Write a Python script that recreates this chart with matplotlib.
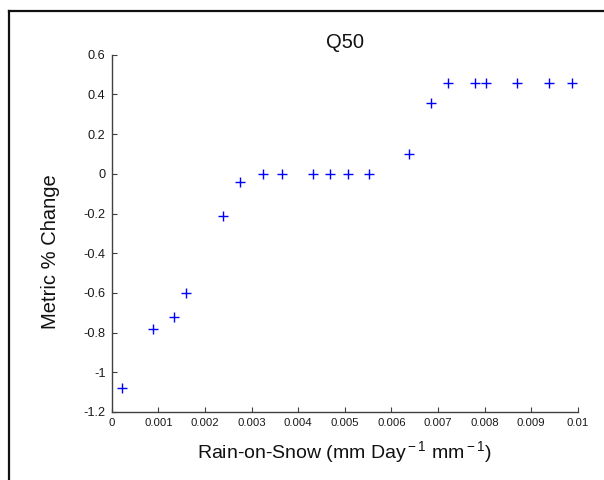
import matplotlib
matplotlib.use("Agg")
import matplotlib.pyplot as plt
from matplotlib.lines import Line2D

plt.rcParams['font.family'] = ['Liberation Sans', 'DejaVu Sans']
plt.rcParams['mathtext.fontset'] = 'custom'
plt.rcParams['mathtext.rm'] = 'Liberation Sans'
plt.rcParams['mathtext.it'] = 'Liberation Sans:italic'
plt.rcParams['mathtext.bf'] = 'Liberation Sans:bold'

# Data
rain_on_snow = [0.00021, 0.00088, 0.00134, 0.00159, 0.00239, 0.00276, 0.00325,
                0.00366, 0.00431, 0.00469, 0.00506, 0.00552, 0.00638, 0.00686,
                0.00721, 0.00779, 0.00804, 0.00869, 0.00938, 0.00987]
metric_change = [-1.08, -0.78, -0.72, -0.60, -0.214, -0.043, 0.0,
                 0.0, 0.0, 0.0, 0.0, 0.0, 0.10, 0.357,
                 0.456, 0.456, 0.456, 0.456, 0.456, 0.456]

x_ticks = [0, 0.001, 0.002, 0.003, 0.004, 0.005, 0.006, 0.007, 0.008, 0.009, 0.01]
x_tick_labels = ['0', '0.001', '0.002', '0.003', '0.004', '0.005', '0.006',
                 '0.007', '0.008', '0.009', '0.01']
y_ticks = [-1.2, -1.0, -0.8, -0.6, -0.4, -0.2, 0, 0.2, 0.4, 0.6]
y_tick_labels = ['-1.2', '-1', '-0.8', '-0.6', '-0.4', '-0.2', '0', '0.2', '0.4', '0.6']

fig = plt.figure(figsize=(6.04, 4.80), dpi=100)
ax = fig.add_axes([0.185, 0.1417, 0.7716, 0.7443])

ax.plot(rain_on_snow, metric_change, linestyle='none', marker='+',
        color=(0, 0, 1), markersize=7.5, markeredgewidth=1.0)

ax.set_xlim(0, 0.01)
ax.set_ylim(-1.2, 0.6)
ax.set_xticks(x_ticks)
ax.set_xticklabels(x_tick_labels)
ax.set_yticks(y_ticks)
ax.set_yticklabels(y_tick_labels)

for s in ['top', 'right']:
    ax.spines[s].set_visible(False)
for s in ['left', 'bottom']:
    ax.spines[s].set_color('#404040')
    ax.spines[s].set_linewidth(1.0)
ax.tick_params(direction='in', length=3.5, width=0.8, colors='#404040',
               labelcolor='#1a1a1a', pad=4.5)
ax.tick_params(axis='x', labelsize=8.2)
ax.tick_params(axis='y', labelsize=9.2)

ax.set_title('Q50', fontsize=14.5, color='#111111', pad=5)
ax.set_xlabel(r'Rain-on-Snow (mm Day$^{\rm -1}$ mm$^{\rm -1}$)', fontsize=14,
              color='#111111', labelpad=8)
ax.set_ylabel('Metric % Change', fontsize=14.5, color='#111111')
ax.yaxis.set_label_coords(-0.112, 0.448)

# figure frame (left and top edges)
fw, fh = 604, 480
fig.add_artist(Line2D([8.5 / fw, 8.5 / fw], [0, 1 - 10.5 / fh], transform=fig.transFigure,
                      color='#111111', linewidth=1.6, solid_capstyle='projecting'))
fig.add_artist(Line2D([8.5 / fw, 1], [1 - 10.5 / fh, 1 - 10.5 / fh], transform=fig.transFigure,
                      color='#111111', linewidth=1.6, solid_capstyle='projecting'))

fig.savefig('out.png', dpi=100)
